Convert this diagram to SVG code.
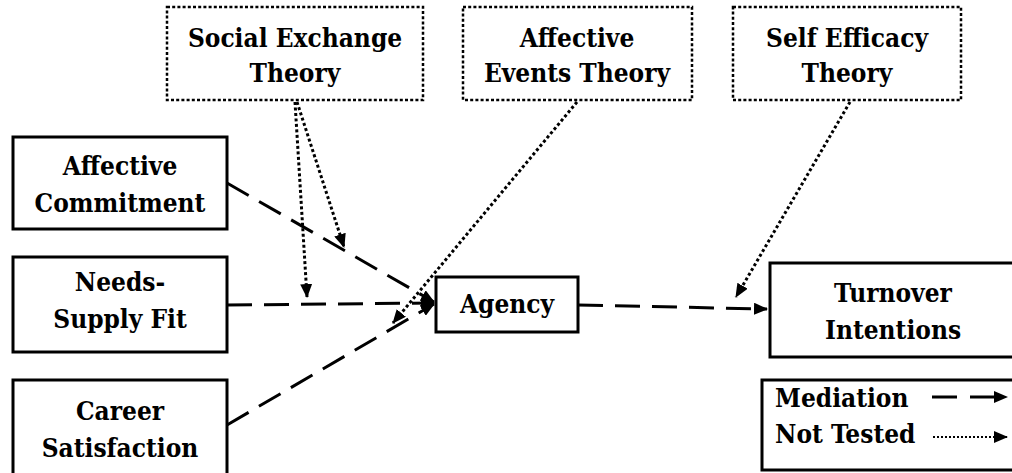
<svg xmlns="http://www.w3.org/2000/svg" width="1012" height="473" viewBox="0 0 1012 473">
<style>
  .box { fill: #fff; stroke: #000; stroke-width: 3; }
  .tbox { fill: #fff; stroke: #000; stroke-width: 2.5; stroke-dasharray: 3 2.2; }
  text { font-family: 'DejaVu Serif Condensed', 'DejaVu Serif', serif; font-stretch: condensed; font-weight: 700; font-size: 26px; fill: #000; }
  .lbl { text-anchor: middle; }
  .med { fill: none; stroke: #000; stroke-width: 3; stroke-dasharray: 25 12; marker-end: url(#ah); }
  .nt { fill: none; stroke: #000; stroke-width: 3; stroke-dasharray: 3 2.5; marker-end: url(#ah); }
</style>
<defs>
  <marker id="ah" markerWidth="14" markerHeight="12" refX="13" refY="6" orient="auto" markerUnits="userSpaceOnUse">
    <path d="M0,0 L14,6 L0,12 z" fill="#000" stroke="none"/>
  </marker>
</defs>
<rect width="1012" height="473" fill="#fff"/>

<g id="connectors">
  <line class="med" x1="227" y1="183" x2="434" y2="302"/>
  <line class="med" x1="227" y1="305" x2="434" y2="303"/>
  <line class="med" x1="227" y1="425" x2="434" y2="304"/>
  <line class="med" x1="578" y1="305" x2="767" y2="309"/>
  <line class="nt" x1="295" y1="102" x2="307" y2="297"/>
  <line class="nt" x1="297" y1="102" x2="344" y2="247"/>
  <line class="nt" x1="577" y1="102" x2="393" y2="323"/>
  <line class="nt" x1="850" y1="102" x2="736" y2="297"/>
</g>

<g id="social-exchange-theory">
  <rect class="tbox" x="167" y="7" width="256" height="93"/>
  <text class="lbl" x="295" y="47">Social Exchange</text>
  <text class="lbl" x="295" y="82">Theory</text>
</g>
<g id="affective-events-theory">
  <rect class="tbox" x="463" y="7" width="229" height="93"/>
  <text class="lbl" x="577" y="47">Affective</text>
  <text class="lbl" x="577" y="82">Events Theory</text>
</g>
<g id="self-efficacy-theory">
  <rect class="tbox" x="733" y="7" width="228" height="93"/>
  <text class="lbl" x="847" y="47">Self Efficacy</text>
  <text class="lbl" x="847" y="82">Theory</text>
</g>

<g id="affective-commitment">
  <rect class="box" x="13" y="137" width="214" height="92"/>
  <text class="lbl" x="120" y="175">Affective</text>
  <text class="lbl" x="120" y="212">Commitment</text>
</g>
<g id="needs-supply-fit">
  <rect class="box" x="13" y="257" width="214" height="95"/>
  <text class="lbl" x="120" y="291">Needs-</text>
  <text class="lbl" x="120" y="328">Supply Fit</text>
</g>
<g id="career-satisfaction">
  <rect class="box" x="13" y="380" width="214" height="100"/>
  <text class="lbl" x="120" y="420">Career</text>
  <text class="lbl" x="120" y="457">Satisfaction</text>
</g>
<g id="agency">
  <rect class="box" x="436" y="277" width="142" height="55"/>
  <text class="lbl" x="507" y="313">Agency</text>
</g>
<g id="turnover-intentions">
  <rect class="box" x="770" y="263" width="246" height="94"/>
  <text class="lbl" x="893" y="302">Turnover</text>
  <text class="lbl" x="893" y="339">Intentions</text>
</g>

<g id="legend">
  <rect class="box" x="762" y="380" width="260" height="90"/>
  <text x="775" y="407">Mediation</text>
  <text x="775" y="443">Not Tested</text>
  <line class="med" x1="932" y1="397" x2="1007" y2="397" style="stroke-dasharray: 25 13"/>
  <line class="nt" x1="933" y1="437" x2="1007" y2="437" style="stroke-width:2; stroke-dasharray: 2 2"/>
</g>
</svg>
